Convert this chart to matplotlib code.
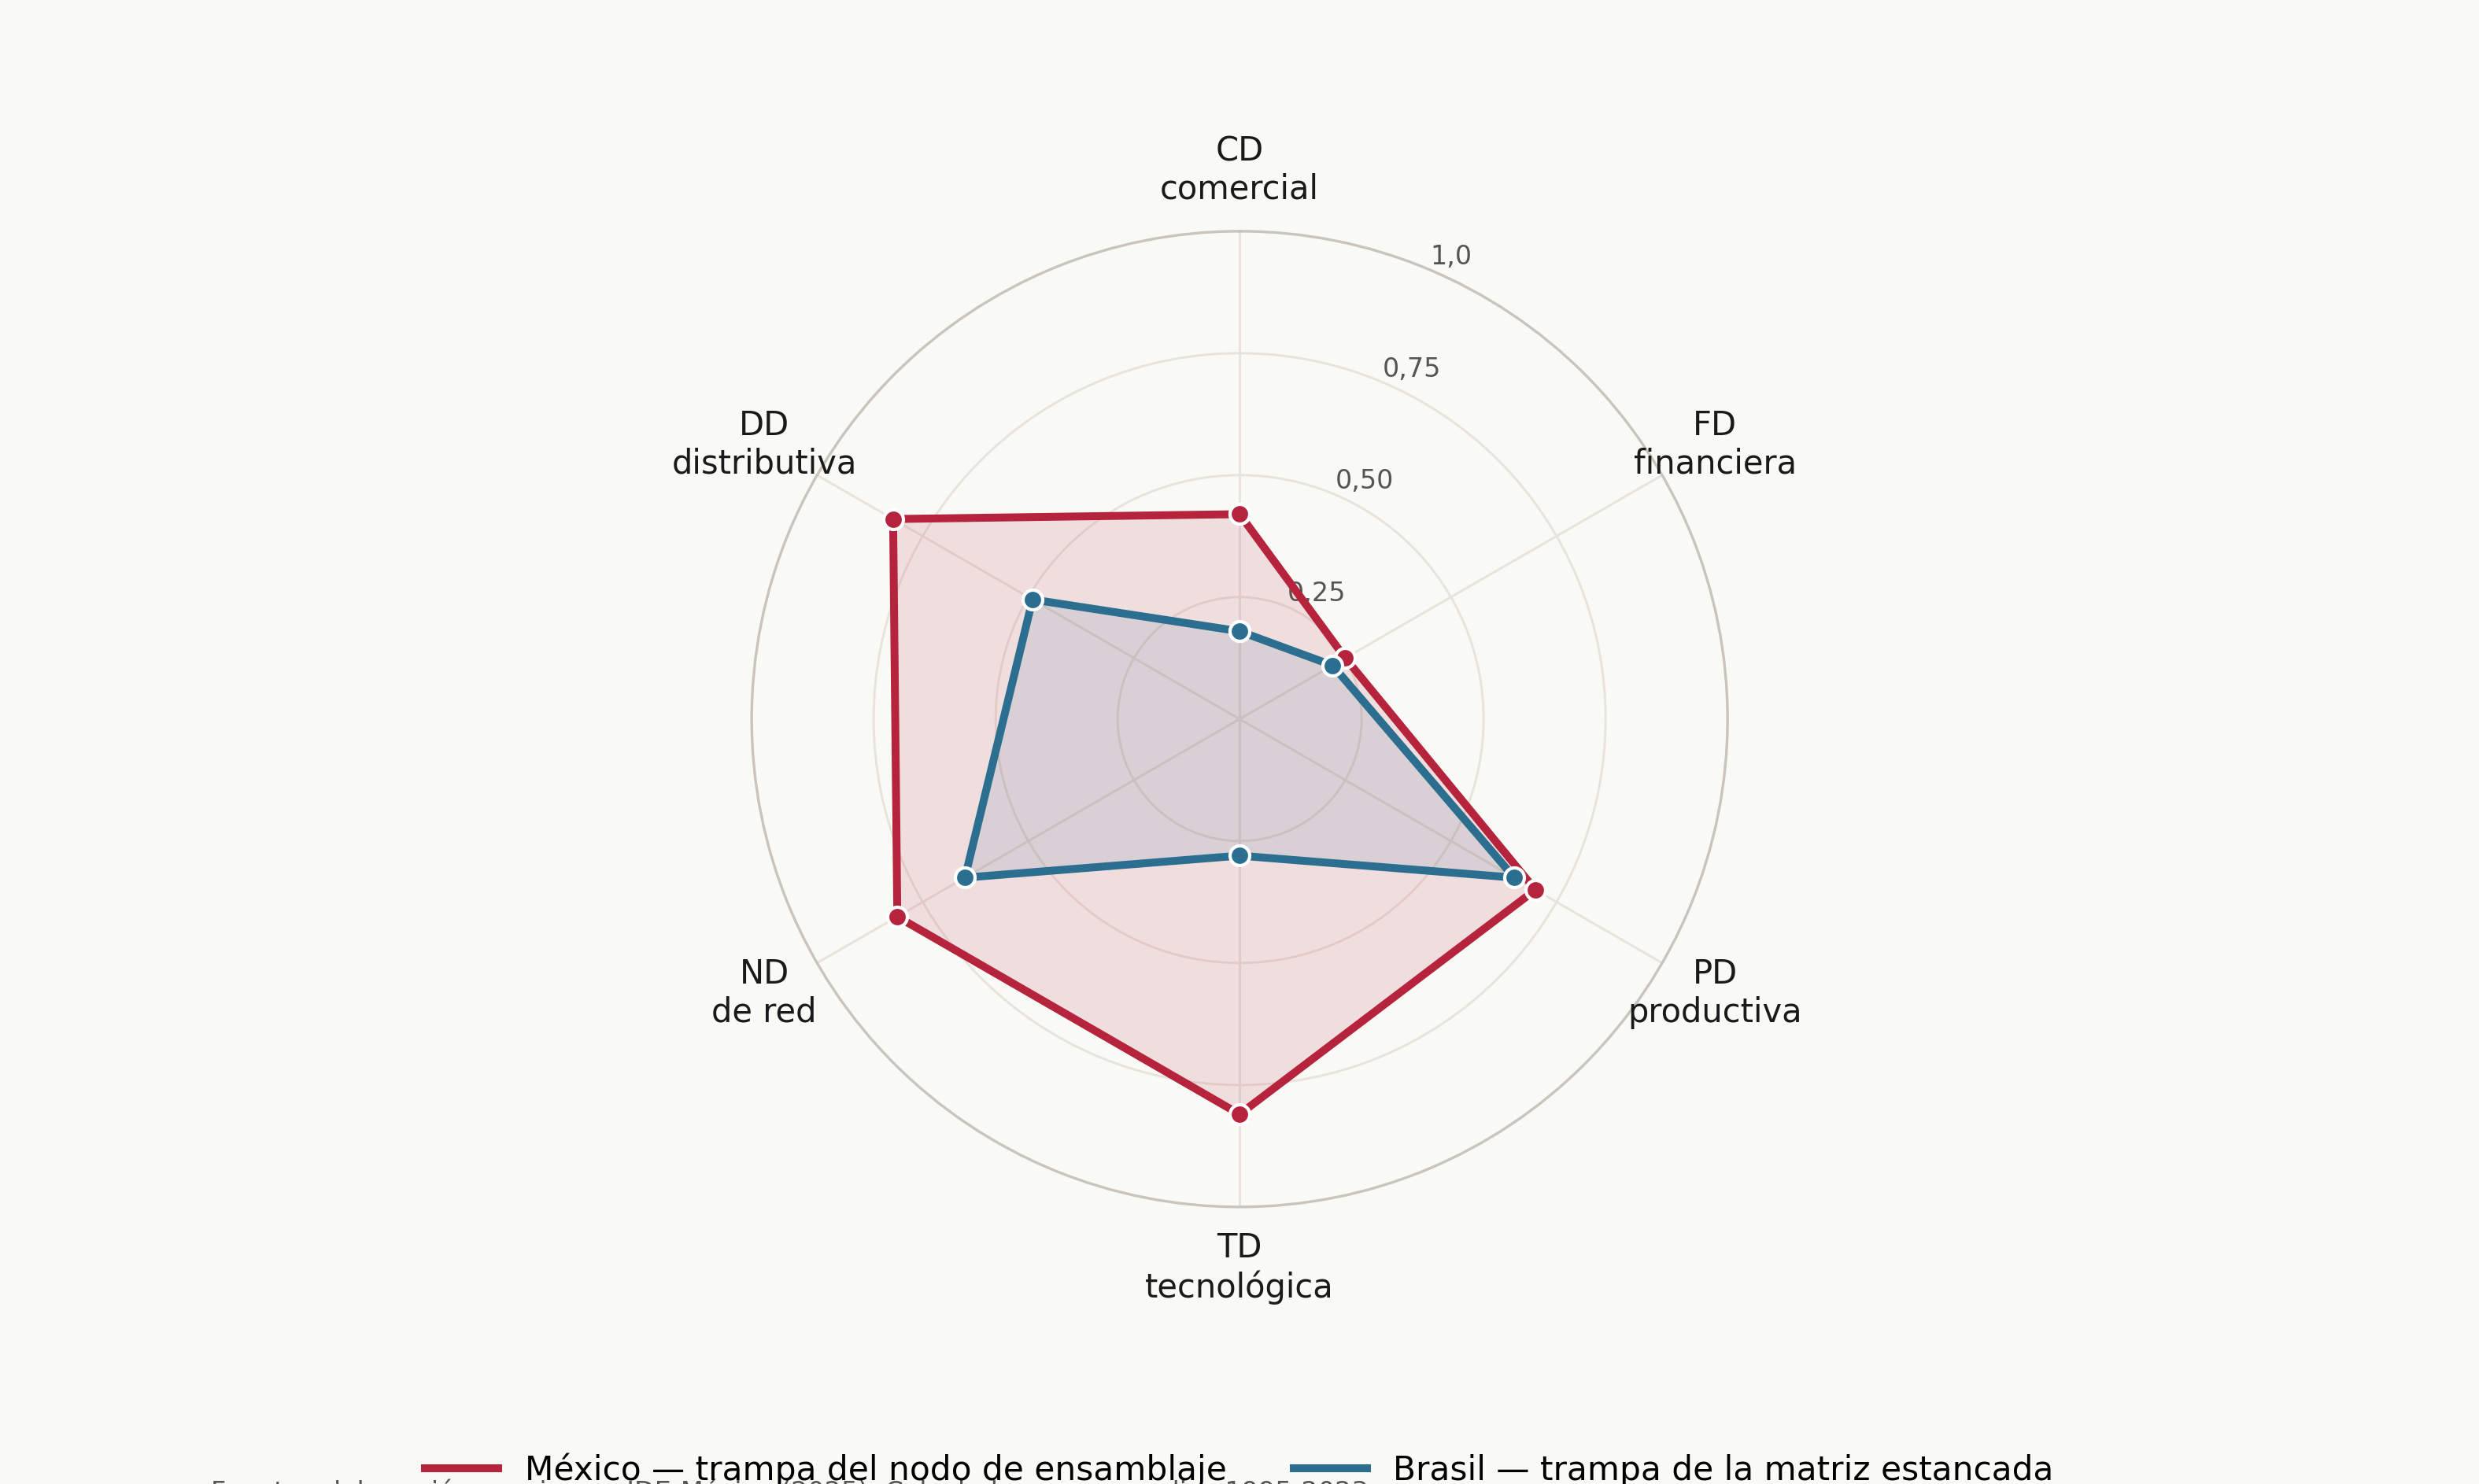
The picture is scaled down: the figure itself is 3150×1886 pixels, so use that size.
import matplotlib
matplotlib.use('Agg')
import matplotlib.pyplot as plt
from matplotlib.lines import Line2D
import numpy as np

# Datos
categorias = ['CD\ncomercial', 'FD\nfinanciera', 'PD\nproductiva',
              'TD\ntecnológica', 'ND\nde red', 'DD\ndistributiva']
mexico = [0.42, 0.25, 0.70, 0.81, 0.81, 0.82]
brasil = [0.18, 0.22, 0.65, 0.28, 0.65, 0.49]
r_ticks = [0.25, 0.50, 0.75, 1.0]
r_labels = ['0,25', '0,50', '0,75', '1,0']
nombres = ['México — trampa del nodo de ensamblaje',
           'Brasil — trampa de la matriz estancada']
colores = ['#b5233c', '#2c6e8f']
fuente = ('Fuente: elaboración propia con IDE-México (2025). '
          'Calculado con promedios 1995-2023.')

bg = '#f9f9f5'
plt.rcParams['font.family'] = ['DejaVu Sans']

fig = plt.figure(figsize=(10.5, 1886 / 300), dpi=300, facecolor=bg)
ax = fig.add_axes([0.3032, 0.1867, 0.3937, 0.6575], projection='polar')
ax.set_facecolor(bg)
ax.set_theta_offset(np.pi / 2)
ax.set_theta_direction(-1)

n = len(categorias)
ang = np.linspace(0, 2 * np.pi, n, endpoint=False)
ang_c = np.concatenate([ang, ang[:1]])

for vals, col in zip([mexico, brasil], colores):
    v = np.concatenate([vals, vals[:1]])
    ax.fill(ang_c, v, color=col, alpha=0.12, zorder=2)
    ax.plot(ang_c, v, color=col, linewidth=2.4, marker='o', markersize=6,
            markeredgecolor='white', markeredgewidth=1.0, zorder=3,
            solid_joinstyle='miter')

ax.set_ylim(0, 1)
ax.set_yticks(r_ticks)
ax.set_yticklabels(r_labels, fontsize=8, color='#555555')
ax.set_rlabel_position(23)
ax.set_xticks(ang)
ax.set_xticklabels([])
ax.grid(True, color='#e8e3dc', linewidth=0.7)
ax.spines['polar'].set_color('#c9c5bd')
ax.spines['polar'].set_linewidth(0.8)

# Etiquetas de los ejes
for a, lab in zip(ang, categorias):
    ax.text(a, 1.125, lab, ha='center', va='center', fontsize=10,
            color='#1a1a1a', clip_on=False)

handles = [Line2D([0], [0], color=c, linewidth=2.4) for c in colores]
fig.legend(handles, nombres, loc='center', bbox_to_anchor=(0.5, 18 / 1886),
           ncol=2, frameon=False, fontsize=10.15, handlelength=2.2,
           columnspacing=2.0)

# Nota de fuente (queda recortada en el borde inferior, como en el original)
fig.text(0.085, 0.0035, fuente, ha='left', va='top', fontsize=8,
         color='#555555')

plt.savefig('out.png', dpi=300, facecolor=bg)
